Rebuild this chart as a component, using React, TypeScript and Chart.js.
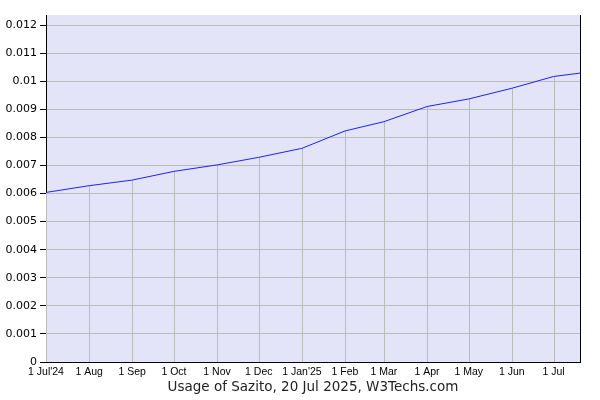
import { useEffect, useRef } from 'react';
import { Chart, ChartConfiguration, Plugin } from 'chart.js/auto';

// monthly usage share of Sazito
const dates = [
  '2024-07-01', '2024-08-01', '2024-09-01', '2024-10-01', '2024-11-01', '2024-12-01',
  '2025-01-01', '2025-02-01', '2025-03-01', '2025-04-01', '2025-05-01', '2025-06-01',
  '2025-07-01', '2025-07-20',
];
const usage = [
  0.00604, 0.00628, 0.00648, 0.00679, 0.00702, 0.00729,
  0.00761, 0.00823, 0.00856, 0.0091, 0.00937, 0.00975,
  0.01017, 0.01029,
];
const monthTicks = [
  '2024-07-01', '2024-08-01', '2024-09-01', '2024-10-01', '2024-11-01', '2024-12-01',
  '2025-01-01', '2025-02-01', '2025-03-01', '2025-04-01', '2025-05-01', '2025-06-01',
  '2025-07-01',
];
const monthLabels = [
  "1 Jul'24", '1 Aug', '1 Sep', '1 Oct', '1 Nov', '1 Dec',
  "1 Jan'25", '1 Feb', '1 Mar', '1 Apr', '1 May', '1 Jun', '1 Jul',
];
const yTicks = [0, 0.001, 0.002, 0.003, 0.004, 0.005, 0.006, 0.007, 0.008, 0.009, 0.01, 0.011, 0.012];
const yMax = 0.01236;
const title = 'Usage of Sazito, 20 Jul 2025, W3Techs.com';

const toDay = (s: string) => Date.parse(s) / 86400000;

const plotBg = '#e4e4f8';
const gridColor = '#bbbbbb';

const backdrop: Plugin = {
  id: 'backdrop',
  beforeDraw(chart) {
    const { ctx, chartArea } = chart;
    ctx.save();
    ctx.fillStyle = plotBg;
    ctx.fillRect(chartArea.left, chartArea.top, chartArea.right - chartArea.left, chartArea.bottom - chartArea.top);
    ctx.restore();
  },
};

// vertical grid only runs from the line down to the axis
const dropLines: Plugin = {
  id: 'dropLines',
  beforeDatasetsDraw(chart) {
    const { ctx, chartArea } = chart;
    const meta = chart.getDatasetMeta(0);
    ctx.save();
    ctx.strokeStyle = gridColor;
    ctx.lineWidth = 1;
    meta.data.forEach((pt, i) => {
      if (i >= monthTicks.length) return;
      const x = Math.round(pt.x) + 0.5;
      ctx.beginPath();
      ctx.moveTo(x, pt.y);
      ctx.lineTo(x, chartArea.bottom);
      ctx.stroke();
    });
    ctx.restore();
  },
  afterDraw(chart) {
    const { ctx, chartArea } = chart;
    ctx.save();
    ctx.strokeStyle = '#000';
    ctx.lineWidth = 1;
    ctx.beginPath();
    ctx.moveTo(Math.round(chartArea.right) + 0.5, chartArea.top);
    ctx.lineTo(Math.round(chartArea.right) + 0.5, chartArea.bottom);
    ctx.stroke();
    ctx.restore();
  },
};

export default function App() {
  const canvasRef = useRef<HTMLCanvasElement>(null);

  useEffect(() => {
    if (!canvasRef.current) return;

    const config: ChartConfiguration<'line'> = {
      type: 'line',
      data: {
        datasets: [{
          data: dates.map((d, i) => ({ x: toDay(d), y: usage[i] })),
          borderColor: '#2020ff',
          borderWidth: 1,
          pointRadius: 0,
          tension: 0,
          fill: false,
        }],
      },
      options: {
        responsive: false,
        animation: false,
        layout: { padding: { top: 15, right: 20, left: 0, bottom: 0 } },
        plugins: {
          legend: { display: false },
          tooltip: { enabled: false },
        },
        scales: {
          x: {
            type: 'linear',
            min: toDay(dates[0]),
            max: toDay(dates[dates.length - 1]),
            afterBuildTicks: (scale) => {
              scale.ticks = monthTicks.map((d) => ({ value: toDay(d) }));
            },
            afterFit: (scale) => {
              scale.height = 38;
            },
            grid: { display: false, drawTicks: false },
            border: { display: true, color: '#000', width: 1 },
            ticks: {
              autoSkip: false,
              maxRotation: 0,
              padding: 4,
              color: '#000',
              font: { family: 'Liberation Sans', size: 10.5 },
              callback: (_v, i) => monthLabels[i],
            },
            title: {
              display: true,
              text: title,
              color: '#222',
              font: { family: 'DejaVu Sans', size: 13.5 },
              padding: { top: 0, bottom: 4 },
            },
          },
          y: {
            min: 0,
            max: yMax,
            afterBuildTicks: (scale) => {
              scale.ticks = yTicks.map((v) => ({ value: v }));
            },
            afterFit: (scale) => {
              scale.width = 46;
            },
            grid: {
              color: gridColor,
              tickColor: '#000',
              tickLength: 6,
              lineWidth: 1,
            },
            border: { display: true, color: '#000', width: 1 },
            ticks: {
              padding: 3,
              color: '#000',
              font: { family: 'DejaVu Sans', size: 11 },
              callback: (v) => String(+Number(v).toFixed(3)),
            },
          },
        },
      },
      plugins: [backdrop, dropLines],
    };

    const chart = new Chart(canvasRef.current, config);
    return () => chart.destroy();
  }, []);

  return (
    <div style={{ position: 'absolute', left: 0, top: 0, width: 600, height: 400, background: '#fff' }}>
      <canvas ref={canvasRef} width={600} height={400} />
    </div>
  );
}
